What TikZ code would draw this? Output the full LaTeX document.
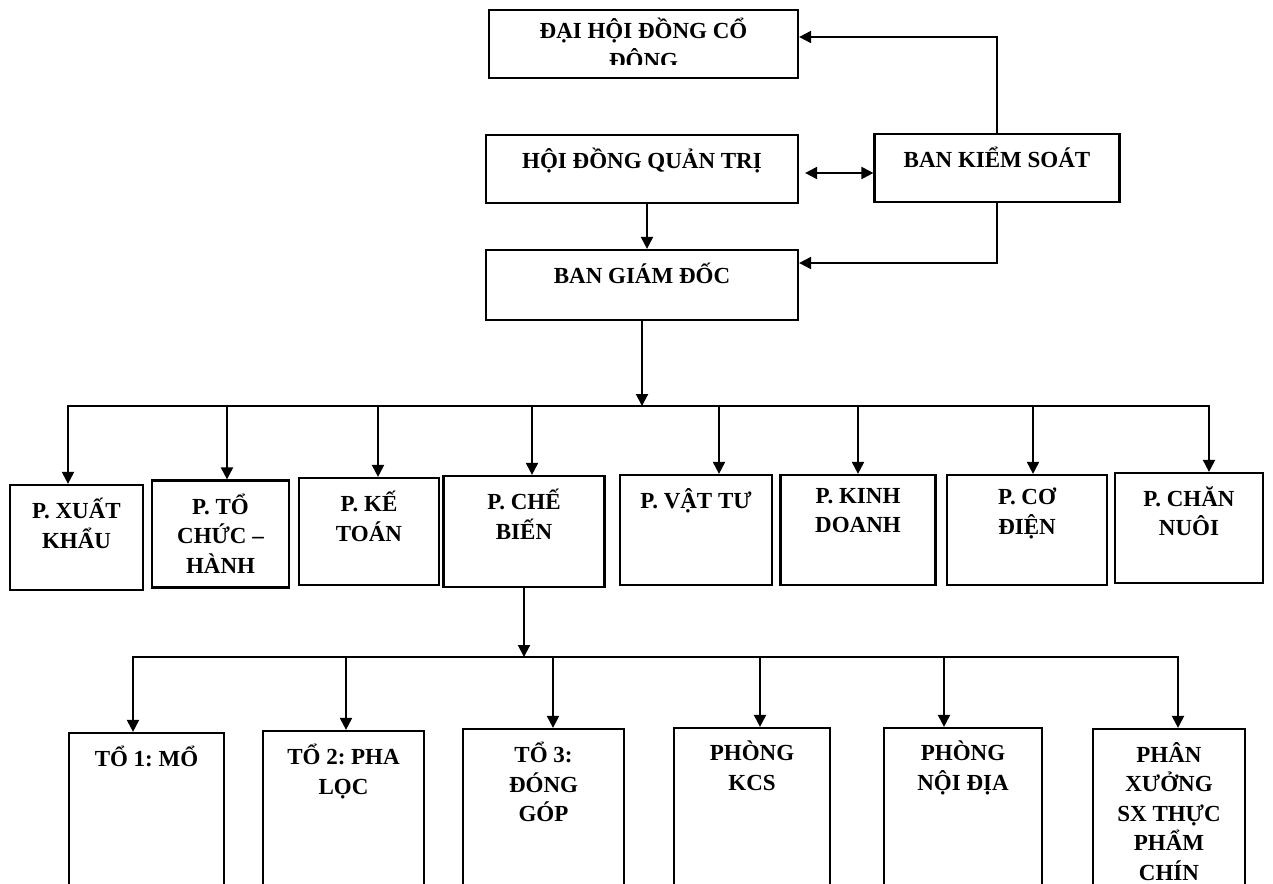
\documentclass[tikz,border=0pt]{standalone}
\usepackage{fontspec}
\setmainfont{Liberation Serif}
\usetikzlibrary{arrows.meta, positioning}
\frenchspacing

\begin{document}
\begin{tikzpicture}[
        x=1pt, y=-1pt,
        font=\fontsize{23}{29.5}\selectfont\bfseries,
        box/.style={
            draw,
            line width=2.2pt,
            inner sep=0pt
        },
        lbl/.style={
            anchor=north,
            yshift=-14pt,
            align=center,
            inner sep=0pt,
            execute at begin node={\vphantom{Ổ}}
        },
        unit/.style={
            box,
            label={[lbl]north:{#1}}
        },
        line/.style={line width=2pt},
        arrow/.style={-{Triangle[length=12pt, width=12pt]}, line width=2pt},
        twoway/.style={{Triangle[length=12pt, width=12pt]}-{Triangle[length=12pt, width=12pt]}, line width=2pt}
    ]

        \useasboundingbox (0,0) rectangle (1273,883);
        \clip (0,0) rectangle (1273,883);

        % ---- Top of the company ----
        \node[box, minimum width=309, minimum height=68] (dhdcd) at (643.5,44) {};
        \begin{scope}
            \clip (dhdcd.north west) rectangle ([yshift=15pt]dhdcd.south east);
            \node[lbl, yshift=5pt] (dhdcdtext) at (dhdcd.north) {ĐẠI HỘI ĐỒNG CỔ\\ĐÔNG};
        \end{scope}
        \node[unit={HỘI ĐỒNG QUẢN TRỊ}, minimum width=312, minimum height=68] (hdqt) at (642,169) {};
        \node[unit={BAN KIỂM SOÁT}, minimum width=245, minimum height=68] (bks) at (997,168) {};
        \node[unit={BAN GIÁM ĐỐC}, minimum width=312, minimum height=70] (bgd) at (642,285) {};

        \coordinate (bus1) at (0,406);
        \coordinate (bus2) at (0,657);

        % ---- Departments ----
        \node[unit={P. XUẤT\\KHẨU}, minimum width=133, minimum height=105] (xk) at (76.5,537.5) {};
        \node[unit={P. TỔ\\CHỨC –\\HÀNH}, minimum width=137, minimum height=107] (tc) at (220.5,534) {};
        \node[unit={P. KẾ\\TOÁN}, minimum width=140, minimum height=107] (kt) at (369,531.5) {};
        \node[unit={P. CHẾ\\BIẾN}, minimum width=161, minimum height=111] (cb) at (524,531.5) {};
        \node[unit={P. VẬT TƯ}, minimum width=152, minimum height=110] (vt) at (696,530) {};
        \node[unit={P. KINH\\DOANH}, minimum width=155, minimum height=110] (kd) at (858,530) {};
        \node[unit={P. CƠ\\ĐIỆN}, minimum width=160, minimum height=110] (cd) at (1027,530) {};
        \node[unit={P. CHĂN\\NUÔI}, minimum width=148, minimum height=110] (cn) at (1189,528) {};

        % ---- Teams under P. Che bien ----
        \node[unit={TỔ 1: MỔ}, minimum width=155, minimum height=162] (t1) at (146.5,814) {};
        \node[unit={TỔ 2: PHA\\LỌC}, minimum width=161, minimum height=164] (t2) at (343.5,813) {};
        \node[unit={TỔ 3:\\ĐÓNG\\GÓP}, minimum width=161, minimum height=166] (t3) at (543.5,812) {};
        \node[unit={PHÒNG\\KCS}, minimum width=156, minimum height=167] (kcs) at (752,811.5) {};
        \node[unit={PHÒNG\\NỘI ĐỊA}, minimum width=158, minimum height=167] (nd) at (963,811.5) {};
        \node[unit={PHÂN\\XƯỞNG\\SX THỰC\\PHẨM\\CHÍN}, minimum width=152, minimum height=167] (px) at (1169,812.5) {};

        % ---- Arrows (top) ----
        \draw[arrow] (bks.north) |- ([yshift=7pt]dhdcd.east);
        \draw[twoway] ([xshift=6pt, yshift=-4pt]hdqt.east) -- ([yshift=-4pt]hdqt.east -| bks.west);
        \draw[arrow] ([xshift=5pt]hdqt.south) -- ([xshift=5pt]bgd.north);
        \draw[arrow] (bks.south) |- ([yshift=22pt]bgd.east);
        \draw[arrow] (bgd.south) -- (bgd.south |- bus1);

        % ---- Arrows (departments) ----
        \draw[twoway] ([xshift=-8.5pt]xk.north) |- ([xshift=20pt]cn.north |- bus1) -- ([xshift=20pt]cn.north);
        \draw[arrow] ([xshift=6.5pt]tc.north |- bus1) -- ([xshift=6.5pt]tc.north);
        \draw[arrow] ([xshift=9pt]kt.north |- bus1) -- ([xshift=9pt]kt.north);
        \draw[arrow] ([xshift=8pt]cb.north |- bus1) -- ([xshift=8pt]cb.north);
        \draw[arrow] ([xshift=23pt]vt.north |- bus1) -- ([xshift=23pt]vt.north);
        \draw[arrow] (kd.north |- bus1) -- (kd.north);
        \draw[arrow] ([xshift=6pt]cd.north |- bus1) -- ([xshift=6pt]cd.north);

        % ---- Arrows (teams) ----
        \draw[arrow] (cb.south) -- (cb.south |- bus2);
        \draw[twoway] ([xshift=-13.5pt]t1.north) |- ([xshift=9pt]px.north |- bus2) -- ([xshift=9pt]px.north);
        \draw[arrow] ([xshift=2.5pt]t2.north |- bus2) -- ([xshift=2.5pt]t2.north);
        \draw[arrow] ([xshift=9.5pt]t3.north |- bus2) -- ([xshift=9.5pt]t3.north);
        \draw[arrow] ([xshift=8pt]kcs.north |- bus2) -- ([xshift=8pt]kcs.north);
        \draw[arrow] ([xshift=-19pt]nd.north |- bus2) -- ([xshift=-19pt]nd.north);

    \end{tikzpicture}
\end{document}
